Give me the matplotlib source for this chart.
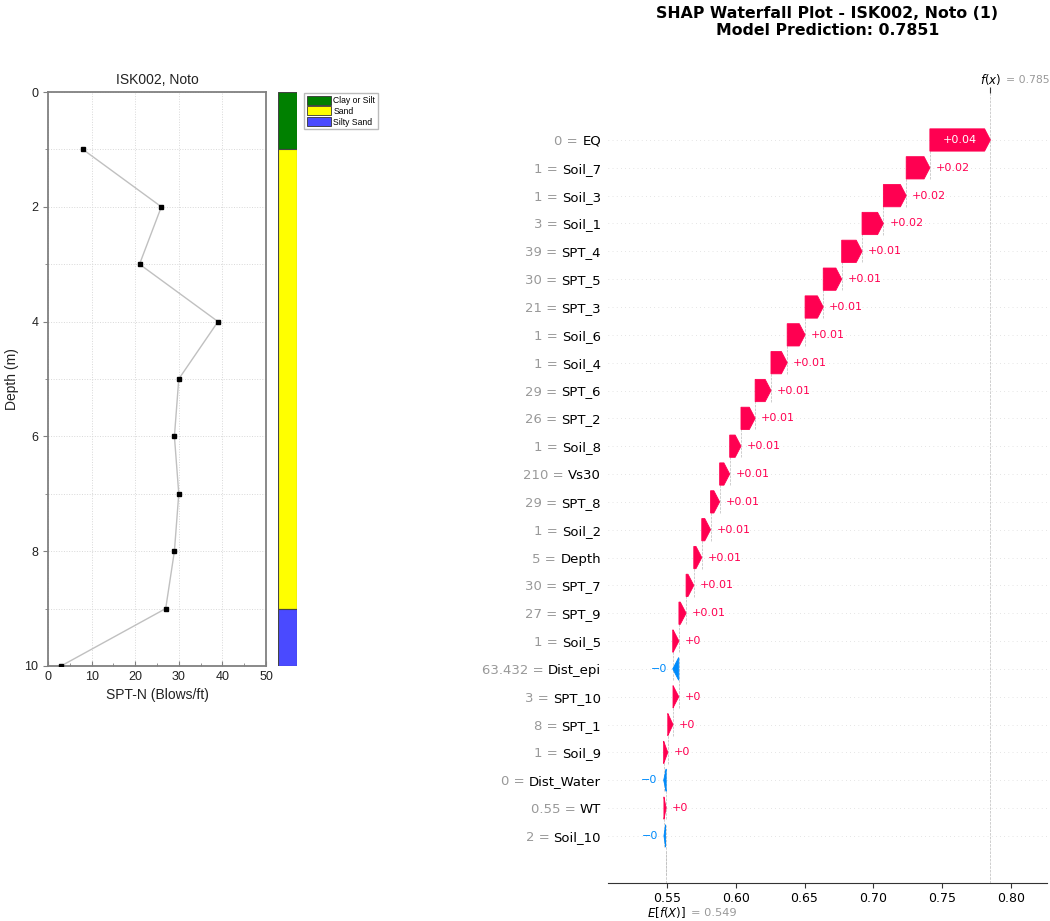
import re
import matplotlib.pyplot as plt
from matplotlib.patches import Patch

# 钻孔 ISK002 (Noto) 的 SPT 与土层数据
depth = [1, 2, 3, 4, 5, 6, 7, 8, 9, 10]
spt_n = [8, 26, 21, 39, 30, 29, 30, 29, 27, 3]
soil_code = [3, 1, 1, 1, 1, 1, 1, 1, 1, 2]
soil_labels = {3: 'Clay or Silt', 1: 'Sand', 2: 'Silty Sand'}
soil_colors = {3: '#008000', 1: '#ffff00', 2: '#4a4aff'}

# SHAP 瀑布图数据 (从上到下)
feature_names = ['EQ', 'Soil_7', 'Soil_3', 'Soil_1', 'SPT_4', 'SPT_5', 'SPT_3', 'Soil_6',
                 'Soil_4', 'SPT_6', 'SPT_2', 'Soil_8', 'Vs30', 'SPT_8', 'Soil_2', 'Depth',
                 'SPT_7', 'SPT_9', 'Soil_5', 'Dist_epi', 'SPT_10', 'SPT_1', 'Soil_9',
                 'Dist_Water', 'WT', 'Soil_10']
feature_values = [0, 1, 1, 3, 39, 30, 21, 1, 1, 29, 26, 1, 210, 29, 1, 5, 30, 27, 1,
                  63.432, 3, 8, 1, 0, 0.55, 2]
shap_values = [0.0440, 0.0172, 0.0166, 0.0155, 0.0148, 0.0134, 0.0132, 0.0130, 0.0118,
               0.0115, 0.0103, 0.0082, 0.0073, 0.0066, 0.0064, 0.0058, 0.0056, 0.0052,
               0.0045, -0.0044, 0.0042, 0.0038, 0.0030, -0.0018, 0.0016, -0.0012]
base_value = 0.549
station = 'ISK002, Noto'

red = '#ff0051'
blue = '#008bfb'


# 和 shap 一样的数值格式 (去掉末尾的 0, 负号换成 −)
def format_value(v, fmt):
    s = fmt % v
    s = re.sub(r'\.?0+$', '', s)
    if s[0] == '-':
        s = '\u2212' + s[1:]
    return s


fig = plt.figure(figsize=(10.5, 9.21), dpi=100)
renderer = fig.canvas.get_renderer()
px2pt = 72 / fig.dpi

# ---------------- 左边: SPT-N 随深度变化 ----------------
arial = 'Liberation Sans'
ax1 = fig.add_axes([0.0457, 0.2769, 0.2076, 0.6232])
ax1.plot(spt_n, depth, color='#c0c0c0', lw=1, zorder=2)
ax1.plot(spt_n, depth, 's', color='black', ms=3.2, zorder=3)
ax1.set_xlim(0, 50)
ax1.set_ylim(10, 0)
ax1.set_xticks(range(0, 51, 10))
ax1.set_xticks(range(5, 50, 10), minor=True)
ax1.set_yticks(range(0, 11, 2))
ax1.set_yticks(range(1, 10, 2), minor=True)
ax1.grid(True, which='major', color='#d8d8d8', ls=':', lw=0.7)
ax1.grid(True, which='minor', axis='y', color='#d8d8d8', ls=':', lw=0.7)
for sp in ax1.spines.values():
    sp.set_color('#808080')
    sp.set_linewidth(1.3)
ax1.tick_params(axis='x', which='both', direction='in', colors='#808080', labelcolor='#222222',
                labelsize=9)
ax1.tick_params(axis='y', which='both', direction='out', colors='#808080', labelcolor='#222222',
                labelsize=9)
ax1.tick_params(which='minor', length=2.5)
for lab in ax1.get_xticklabels() + ax1.get_yticklabels():
    lab.set_fontfamily(arial)
ax1.set_title(station, fontsize=10, family=arial, color='#222222')
ax1.set_xlabel('SPT-N (Blows/ft)', fontsize=10, family=arial, color='#222222')
ax1.set_ylabel('Depth (m)', fontsize=10, family=arial, color='#222222')

# 土层柱 (相同土类合并为一段)
ax_soil = fig.add_axes([0.2648, 0.2769, 0.0181, 0.6232])
segments = []
for i, code in enumerate(soil_code):
    top_d = depth[i] - 1
    if segments and segments[-1][2] == code:
        segments[-1][1] = depth[i]
    else:
        segments.append([top_d, depth[i], code])
for top_d, bot_d, code in segments:
    ax_soil.bar(0, bot_d - top_d, bottom=top_d, width=1, color=soil_colors[code],
                edgecolor='#444444', lw=0.8)
ax_soil.set_xlim(-0.5, 0.5)
ax_soil.set_ylim(10, 0)
ax_soil.axis('off')

handles = [Patch(facecolor=soil_colors[c], edgecolor='#333333', lw=0.6, label=soil_labels[c])
           for c in [3, 1, 2]]
fig.legend(handles=handles, loc='upper left', bbox_to_anchor=(0.2895, 0.899),
           prop={'family': arial, 'size': 6.2}, frameon=True, fancybox=False, edgecolor='#aaaaaa',
           handlelength=2.8, handleheight=1.25, borderpad=0.3, labelspacing=0.15,
           handletextpad=0.3, borderaxespad=0)

# ---------------- 右边: SHAP 瀑布图 ----------------
n = len(shap_values)
fx = base_value + sum(shap_values)
ypos = [n - 1 - i for i in range(n)]
starts = []
cur = fx
for v in shap_values:
    cur -= v
    starts.append(cur)

ax = fig.add_axes([0.5790, 0.0413, 0.4181, 0.8578])
xmin, xmax = 0.5071, 0.8262
ax.set_xlim(xmin, xmax)
ax.set_ylim(-1.69, n - 1 + 1.69)

ax_w_px = 0.4181 * fig.get_figwidth() * fig.dpi
px_unit = ax_w_px / (xmax - xmin)
hl = 5.8 / px_unit

for y, s, v in zip(ypos, starts, shap_values):
    ax.axhline(y, color='#cccccc', lw=0.5, dashes=(1, 5), zorder=-1)
    ax.plot([s, s], [y - 1 - 0.4, y + 0.4], color='#bbbbbb', ls='--', lw=0.5, zorder=-1)
    dist = abs(v)
    sign = 1 if v > 0 else -1
    col = red if v > 0 else blue
    ax.arrow(s, y, sign * max(dist - hl, 1e-6), 0, head_length=min(dist, hl),
             width=0.8, head_width=0.8, color=col, lw=0.6, length_includes_head=False)
    label = format_value(v, '%+0.02f')
    txt = ax.text(s + v / 2, y, label, ha='center', va='center', color='white', fontsize=8)
    tw = txt.get_window_extent(renderer=renderer).width
    if tw + 8 > dist * px_unit:
        txt.remove()
        ax.annotate(label, (s + v, y), xytext=(4.3 * sign, 0), textcoords='offset points',
                    ha='left' if v > 0 else 'right', va='center', color=col, fontsize=8)

ax.axvline(fx, color='#bbbbbb', ls='--', lw=0.5, zorder=-1)
ax.axvline(base_value, 0, 1.1 / (n + 2.38), color='#bbbbbb', ls='--', lw=0.5, zorder=-1)

# y 轴标签: 黑色特征名, 前面加灰色的 "值 ="
ylab_size = 9.5
ylab_pad = 5
ax.set_yticks(ypos)
ax.set_yticklabels(feature_names, fontsize=ylab_size)
ax.tick_params(axis='y', length=0, pad=ylab_pad)
space_pt = 0.318 * ylab_size
for y, fv, name in zip(ypos, feature_values, feature_names):
    tmp = fig.text(0, 0, name, fontsize=ylab_size)
    w_pt = tmp.get_window_extent(renderer=renderer).width * px2pt
    tmp.remove()
    ax.annotate(format_value(fv, '%0.03f') + ' =', (0, y), xycoords=('axes fraction', 'data'),
                xytext=(-(ylab_pad + w_pt + space_pt), 0), textcoords='offset points',
                ha='right', va='center_baseline', fontsize=ylab_size, color='#999999')

ax.set_xticks([0.55, 0.60, 0.65, 0.70, 0.75, 0.80])
ax.set_xticklabels(['0.55', '0.60', '0.65', '0.70', '0.75', '0.80'])
ax.tick_params(axis='x', labelsize=9, colors='#333333', labelcolor='black', pad=3)
for side in ['top', 'left', 'right']:
    ax.spines[side].set_visible(False)
ax.spines['bottom'].set_color('#333333')

top = ax.secondary_xaxis('top')
top.set_xticks([fx])
top.set_xticklabels([''])
top.spines['top'].set_visible(False)
top.tick_params(length=4, color='#333333')

ax.annotate('$f(x)$', (fx, 1), xycoords=('data', 'axes fraction'), xytext=(8, 9.5),
            textcoords='offset points', ha='right', va='center', fontsize=8.5)
ax.annotate('= ' + format_value(fx, '%0.03f'), (fx, 1), xycoords=('data', 'axes fraction'),
            xytext=(11.2, 9.5), textcoords='offset points', ha='left', va='center',
            fontsize=7.8, color='#999999')
ax.annotate('$E[f(X)]$', (base_value, 0), xycoords=('data', 'axes fraction'),
            xytext=(14.8, -21.3), textcoords='offset points', ha='right', va='center', fontsize=8.5)
ax.annotate('= ' + format_value(base_value, '%0.03f'), (base_value, 0),
            xycoords=('data', 'axes fraction'), xytext=(18.5, -21.3), textcoords='offset points',
            ha='left', va='center', fontsize=8.2, color='#999999')

fig.text(0.788, 0.993, 'SHAP Waterfall Plot - {0} (1)\nModel Prediction: {1:.4f}'.format(station, fx),
         ha='center', va='top', fontsize=11.3, fontweight='bold', linespacing=1.1)

fig.savefig('out.png', dpi=100)
